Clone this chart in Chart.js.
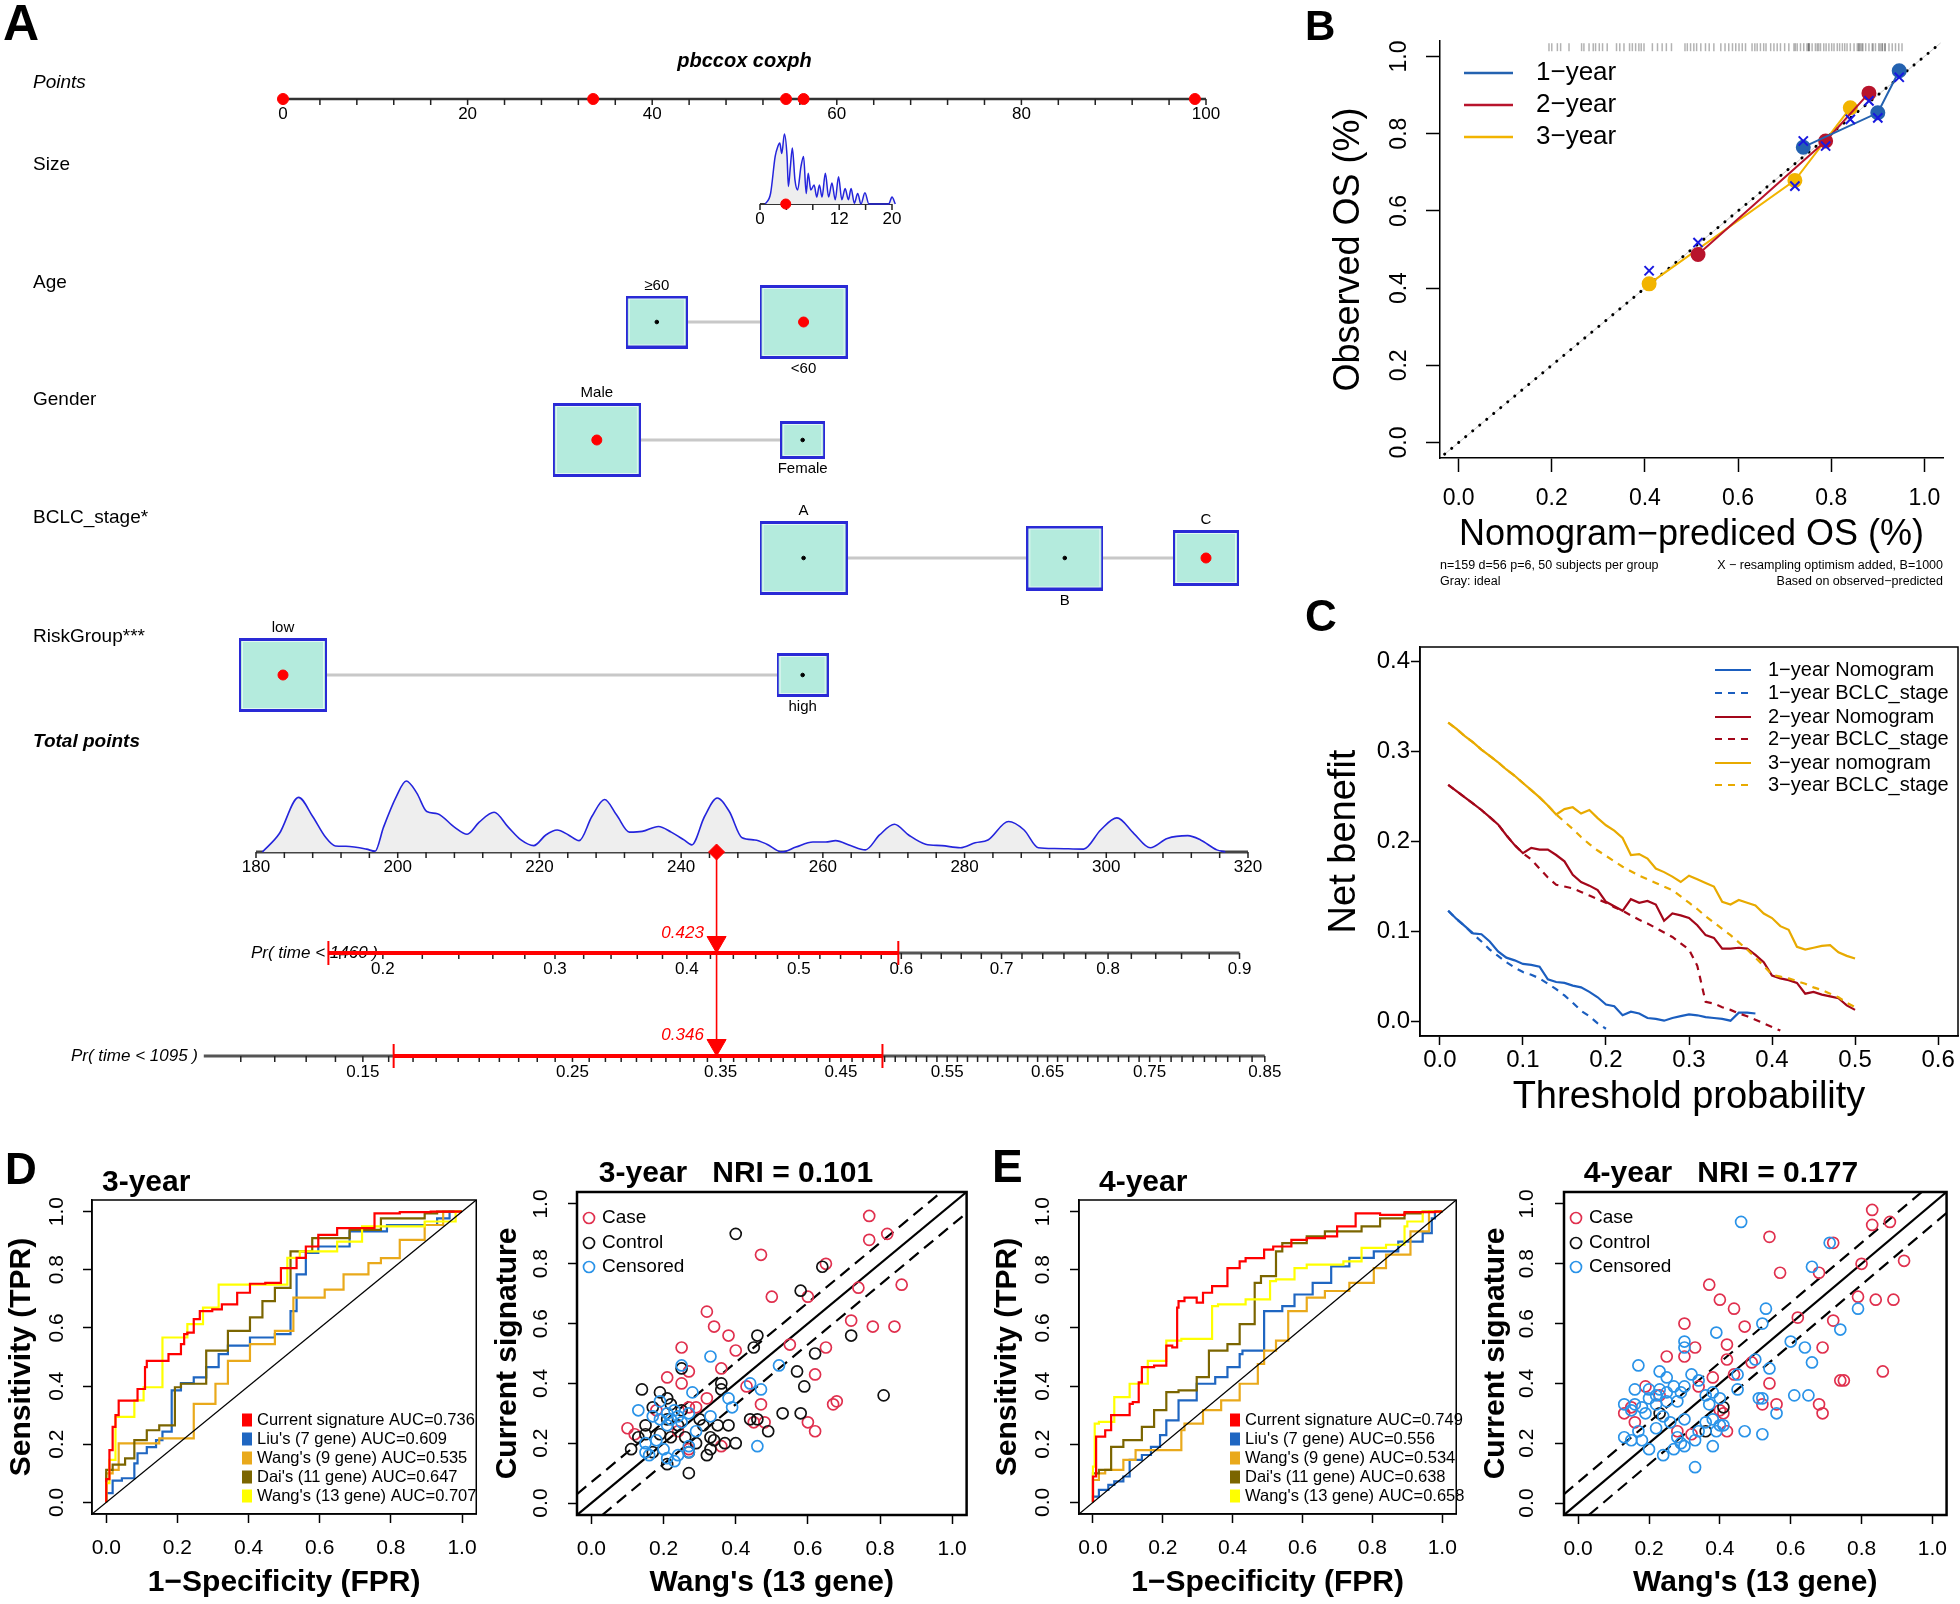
<!DOCTYPE html>
<html>
<head>
<meta charset="utf-8">
<title>Nomogram, calibration, DCA, ROC and NRI</title>
<script src="https://cdn.jsdelivr.net/npm/chart.js@4.4.1/dist/chart.umd.min.js"></script>
<style>
  html, body { margin: 0; padding: 0; background: #fff; }
  #page { position: relative; width: 1960px; height: 1604px; overflow: hidden; font-family: 'Liberation Sans', Arial, sans-serif; }
  #page canvas { position: absolute; }
  .tag { position: absolute; font-weight: bold; line-height: 1; color: #000; }
</style>
</head>
<body>
<div id="page">
  <canvas id="nomo" width="1300" height="1090" style="left:0;top:0"></canvas>
  <canvas id="calib" width="660" height="600" style="left:1300px;top:0"></canvas>
  <canvas id="dca" width="660" height="525" style="left:1300px;top:600px"></canvas>
  <canvas id="rocD" width="490" height="494" style="left:0;top:1110px"></canvas>
  <canvas id="nriD" width="490" height="494" style="left:490px;top:1110px"></canvas>
  <canvas id="rocE" width="490" height="494" style="left:980px;top:1110px"></canvas>
  <canvas id="nriE" width="490" height="494" style="left:1470px;top:1110px"></canvas>
  <div class="tag" style="left:3px;top:-2px;font-size:50px">A</div>
  <div class="tag" style="left:1305px;top:5px;font-size:42px">B</div>
  <div class="tag" style="left:1305px;top:594px;font-size:44px">C</div>
  <div class="tag" style="left:5px;top:1147px;font-size:44px">D</div>
  <div class="tag" style="left:992px;top:1143px;font-size:46px">E</div>
</div>
<script>
// ---------- A: nomogram ----------
const nomoTitle = 'pbccox coxph';
const rowNames = ['Points', 'Size', 'Age', 'Gender', 'BCLC_stage*', 'RiskGroup***', 'Total points'];
const pointsTicks = [0, 20, 40, 60, 80, 100];
const sizeTicks = [0, 12, 20];
const totalTicks = [180, 200, 220, 240, 260, 280, 300, 320];
const pr1460Ticks = [0.2, 0.3, 0.4, 0.5, 0.6, 0.7, 0.8, 0.9];
const pr1095Ticks = [0.15, 0.25, 0.35, 0.45, 0.55, 0.65, 0.75, 0.85];

const ageLevels = ['≥60', '<60'];
const agePoints = [40.5, 56.4];
const ageFreq = [0.33, 0.67];
const genderLevels = ['Male', 'Female'];
const genderPoints = [34.0, 56.3];
const genderFreq = [0.80, 0.20];
const bclcLevels = ['A', 'B', 'C'];
const bclcPoints = [56.4, 84.7, 100.0];
const bclcFreq = [0.43, 0.33, 0.24];
const riskLevels = ['low', 'high'];
const riskPoints = [0, 56.3];
const riskFreq = [0.75, 0.25];
const ageSel = 1, genderSel = 0, bclcSel = 2, riskSel = 0;

const selectedPoints = [0, 33.6, 54.5, 56.4, 98.8];
const sizeSelected = 3.9;
const totalSelected = 245;
const pr1460Selected = 0.423;
const pr1095Selected = 0.346;
const pr1460CI = [0.175, 0.597];
const pr1095CI = [0.162, 0.488];
const pr1460Range = [0.175, 0.9];
const pr1095Range = [0.10, 0.85];
// probability axes: total points = offset + slope * cloglog(p)
const prSlope = 51.8, pr1460Offset = 275.6, pr1095Offset = 289.2;

const sizeValues = [0.8, 1.6, 2.3, 2.7, 3.0, 3.3, 3.7, 4.1, 4.3, 4.6, 4.9, 5.3, 5.7, 6.2, 6.6, 7.0, 7.3, 7.7, 8.2, 8.6, 9.0, 9.4, 9.9, 10.4, 10.9, 11.4, 11.9, 12.4, 12.9, 13.4, 13.8, 14.3, 14.8, 15.3, 15.9, 16.5, 19.5, 20.0, 20.5];
const sizeDensity = [0, 0.15, 0.68, 0.82, 0.87, 0.72, 1.0, 0.68, 0.25, 0.53, 0.80, 0.34, 0.2, 0.53, 0.68, 0.15, 0.44, 0.2, 0.27, 0.1, 0.27, 0.1, 0.44, 0.1, 0.30, 0.06, 0.39, 0.06, 0.22, 0.06, 0.22, 0.01, 0.15, 0, 0.16, 0, 0, 0.1, 0];
const totalValues = [180.9, 183.3, 186.0, 188.0, 189.8, 191.2, 192.7, 195.6, 196.8, 198.0, 199.8, 201.2, 202.7, 204.1, 205.6, 208.0, 209.8, 211.5, 213.6, 215.6, 217.4, 219.2, 220.9, 222.5, 224.1, 225.6, 227.4, 229.2, 230.9, 232.7, 234.5, 236.8, 238.6, 240.4, 241.5, 243.3, 245.1, 246.8, 248.6, 250.4, 252.1, 254.2, 256.2, 258.6, 260.4, 261.8, 263.9, 266.0, 268.0, 270.1, 272.1, 274.5, 276.8, 279.4, 281.5, 283.3, 286.2, 288.4, 290.4, 292.7, 296.8, 299.2, 301.5, 303.9, 306.2, 308.6, 311.5, 313.3, 315.6, 316.8];
const totalDensity = [0, 0.26, 0.77, 0.50, 0.21, 0.085, 0.08, 0.04, 0.01, 0.35, 0.78, 1.0, 0.83, 0.57, 0.54, 0.35, 0.25, 0.42, 0.56, 0.35, 0.17, 0.09, 0.24, 0.31, 0.24, 0.16, 0.50, 0.74, 0.52, 0.28, 0.29, 0.36, 0.28, 0.17, 0.10, 0.50, 0.76, 0.57, 0.20, 0.17, 0.11, 0, 0.07, 0.14, 0.14, 0.16, 0.09, 0.03, 0.24, 0.39, 0.24, 0.11, 0.09, 0.06, 0.13, 0.17, 0.43, 0.31, 0.06, 0.05, 0.04, 0.31, 0.48, 0.26, 0.06, 0.19, 0.23, 0.17, 0.03, 0];

// ---------- B: calibration ----------
const calTicks = [0, 0.2, 0.4, 0.6, 0.8, 1.0];
const calLegend = ['1−year', '2−year', '3−year'];
const calPred1 = [0.740, 0.900, 0.946], calObs1 = [0.765, 0.854, 0.963], calCorr1 = [0.781, 0.841, 0.946];
const calPred2 = [0.514, 0.788, 0.881], calObs2 = [0.487, 0.781, 0.905], calCorr2 = [0.518, 0.768, 0.885];
const calPred3 = [0.409, 0.722, 0.841], calObs3 = [0.411, 0.679, 0.867], calCorr3 = [0.445, 0.664, 0.837];
const calRug = [0.194, 0.200, 0.212, 0.219, 0.237, 0.264, 0.269, 0.280, 0.289, 0.294, 0.302, 0.309, 0.319, 0.339, 0.346, 0.355, 0.367, 0.373, 0.380, 0.387, 0.392, 0.398, 0.416, 0.427, 0.437, 0.446, 0.457, 0.486, 0.491, 0.498, 0.505, 0.511, 0.520, 0.530, 0.538, 0.548, 0.563, 0.572, 0.580, 0.588, 0.595, 0.602, 0.609, 0.616, 0.630, 0.636, 0.641, 0.648, 0.655, 0.660, 0.670, 0.677, 0.684, 0.691, 0.700, 0.709, 0.720, 0.723, 0.727, 0.734, 0.741, 0.748, 0.751, 0.752, 0.753, 0.759, 0.766, 0.770, 0.773, 0.777, 0.784, 0.789, 0.795, 0.801, 0.806, 0.813, 0.818, 0.824, 0.829, 0.834, 0.841, 0.849, 0.856, 0.859, 0.860, 0.863, 0.866, 0.868, 0.874, 0.881, 0.888, 0.890, 0.895, 0.902, 0.905, 0.909, 0.910, 0.915, 0.916, 0.924, 0.931, 0.938, 0.945, 0.952];

// ---------- C: decision curves ----------
const dcaXTicks = [0, 0.1, 0.2, 0.3, 0.4, 0.5, 0.6];
const dcaYTicks = [0, 0.1, 0.2, 0.3, 0.4];
const dcaLegend = ['1−year Nomogram', '1−year BCLC_stage', '2−year Nomogram', '2−year BCLC_stage', '3−year nomogram', '3−year BCLC_stage'];
const dcaThresholds = [0.01, 0.02, 0.03, 0.04, 0.05, 0.06, 0.07, 0.08, 0.09, 0.10, 0.11, 0.12, 0.13, 0.14, 0.15, 0.16, 0.17, 0.18, 0.19, 0.20, 0.21, 0.22, 0.23, 0.24, 0.25, 0.26, 0.27, 0.28, 0.29, 0.30, 0.31, 0.32, 0.33, 0.34, 0.35, 0.36, 0.37, 0.38, 0.39, 0.40, 0.41, 0.42, 0.43, 0.44, 0.45, 0.46, 0.47, 0.48, 0.49, 0.50];
const nb1yNomogram = [0.123, 0.114, 0.106, 0.098, 0.097, 0.089, 0.078, 0.071, 0.068, 0.064, 0.063, 0.061, 0.047, 0.044, 0.043, 0.040, 0.038, 0.033, 0.027, 0.019, 0.017, 0.007, 0.011, 0.009, 0.004, 0.003, 0.001, 0.004, 0.006, 0.008, 0.007, 0.005, 0.004, 0.003, 0.001, 0.010, 0.010, 0.009];
const nb1yBclc = [0.123, 0.114, 0.106, 0.097, 0.089, 0.080, 0.073, 0.066, 0.060, 0.055, 0.052, 0.048, 0.042, 0.036, 0.029, 0.021, 0.012, 0.006, -0.002, -0.008];
const nb2yNomogram = [0.263, 0.256, 0.249, 0.242, 0.235, 0.227, 0.219, 0.207, 0.196, 0.187, 0.193, 0.191, 0.191, 0.185, 0.178, 0.163, 0.155, 0.151, 0.146, 0.133, 0.128, 0.123, 0.136, 0.132, 0.134, 0.130, 0.112, 0.120, 0.118, 0.115, 0.107, 0.096, 0.093, 0.081, 0.081, 0.082, 0.081, 0.074, 0.066, 0.051, 0.048, 0.046, 0.043, 0.031, 0.033, 0.030, 0.028, 0.026, 0.018, 0.013];
const nb2yBclc = [0.263, 0.256, 0.249, 0.242, 0.235, 0.227, 0.219, 0.207, 0.196, 0.187, 0.180, 0.170, 0.160, 0.152, 0.150, 0.148, 0.144, 0.140, 0.136, 0.132, 0.127, 0.123, 0.118, 0.113, 0.109, 0.104, 0.099, 0.094, 0.087, 0.080, 0.062, 0.022, 0.020, 0.016, 0.013, 0.009, 0.006, 0.002, -0.002, -0.006, -0.010];
const nb3yNomogram = [0.332, 0.325, 0.317, 0.310, 0.302, 0.295, 0.288, 0.280, 0.273, 0.265, 0.257, 0.249, 0.240, 0.230, 0.236, 0.238, 0.231, 0.235, 0.226, 0.218, 0.212, 0.204, 0.185, 0.186, 0.181, 0.170, 0.166, 0.161, 0.155, 0.162, 0.158, 0.154, 0.150, 0.133, 0.130, 0.135, 0.132, 0.129, 0.120, 0.115, 0.106, 0.102, 0.083, 0.080, 0.082, 0.084, 0.085, 0.077, 0.073, 0.070];
const nb3yBclc = [0.332, 0.325, 0.317, 0.310, 0.302, 0.295, 0.288, 0.280, 0.273, 0.265, 0.257, 0.249, 0.240, 0.230, 0.222, 0.214, 0.205, 0.197, 0.190, 0.184, 0.178, 0.172, 0.167, 0.162, 0.158, 0.154, 0.150, 0.146, 0.139, 0.132, 0.125, 0.117, 0.110, 0.103, 0.096, 0.088, 0.080, 0.071, 0.062, 0.052, 0.050, 0.048, 0.045, 0.042, 0.038, 0.035, 0.031, 0.027, 0.021, 0.016];

// ---------- D / E: ROC ----------
const unitTicks = [0, 0.2, 0.4, 0.6, 0.8, 1.0];
const rocNames = ['Current signature', "Liu's (7 gene)", "Wang's (9 gene)", "Dai's (11 gene)", "Wang's (13 gene)"];
const aucD = ['0.736', '0.609', '0.535', '0.647', '0.707'];
const aucE = ['0.749', '0.556', '0.534', '0.638', '0.658'];

const rocDCurrentFpr = [0, 0.009, 0.018, 0.026, 0.035, 0.053, 0.088, 0.109, 0.114, 0.118, 0.175, 0.184, 0.210, 0.219, 0.228, 0.246, 0.263, 0.298, 0.325, 0.368, 0.404, 0.447, 0.491, 0.535, 0.561, 0.596, 0.649, 0.754, 0.825, 0.912, 1.0];
const rocDCurrentTpr = [0, 0.08, 0.18, 0.26, 0.30, 0.35, 0.35, 0.39, 0.465, 0.487, 0.487, 0.51, 0.51, 0.544, 0.579, 0.584, 0.63, 0.658, 0.664, 0.681, 0.721, 0.752, 0.755, 0.806, 0.841, 0.880, 0.920, 0.943, 0.994, 0.998, 1.0];
const rocDLiuFpr = [0, 0.018, 0.044, 0.079, 0.088, 0.114, 0.140, 0.158, 0.184, 0.210, 0.246, 0.281, 0.316, 0.342, 0.404, 0.474, 0.518, 0.535, 0.561, 0.596, 0.684, 0.789, 0.930, 0.965, 1.0];
const rocDLiuTpr = [0, 0.032, 0.075, 0.083, 0.134, 0.169, 0.19, 0.214, 0.243, 0.385, 0.41, 0.43, 0.465, 0.51, 0.539, 0.567, 0.579, 0.658, 0.784, 0.858, 0.880, 0.932, 0.954, 0.977, 1.0];
const rocDWang9Fpr = [0, 0.018, 0.035, 0.109, 0.149, 0.246, 0.254, 0.307, 0.342, 0.404, 0.474, 0.526, 0.614, 0.667, 0.737, 0.772, 0.825, 0.895, 0.947, 1.0];
const rocDWang9Tpr = [0, 0.10, 0.112, 0.203, 0.203, 0.22, 0.339, 0.339, 0.408, 0.487, 0.544, 0.59, 0.704, 0.732, 0.784, 0.823, 0.84, 0.903, 0.954, 1.0];
const rocDDaiFpr = [0, 0.018, 0.053, 0.079, 0.114, 0.149, 0.193, 0.210, 0.281, 0.342, 0.404, 0.439, 0.474, 0.518, 0.579, 0.684, 0.772, 0.895, 0.930, 1.0];
const rocDDaiTpr = [0, 0.112, 0.13, 0.151, 0.214, 0.248, 0.265, 0.396, 0.408, 0.522, 0.59, 0.636, 0.692, 0.738, 0.863, 0.909, 0.937, 0.977, 0.994, 1.0];
const rocDWang13Fpr = [0, 0.009, 0.026, 0.035, 0.079, 0.105, 0.158, 0.228, 0.272, 0.316, 0.404, 0.509, 0.544, 0.579, 0.649, 0.719, 0.895, 0.982, 1.0];
const rocDWang13Tpr = [0, 0.066, 0.146, 0.294, 0.294, 0.351, 0.396, 0.567, 0.613, 0.670, 0.749, 0.749, 0.841, 0.863, 0.863, 0.897, 0.949, 0.966, 1.0];

const rocECurrentFpr = [0, 0.009, 0.035, 0.052, 0.061, 0.105, 0.114, 0.131, 0.140, 0.175, 0.210, 0.227, 0.241, 0.245, 0.262, 0.297, 0.315, 0.341, 0.385, 0.393, 0.420, 0.437, 0.490, 0.516, 0.568, 0.612, 0.664, 0.699, 0.752, 0.822, 0.892, 0.98, 1.0];
const rocECurrentTpr = [0, 0.089, 0.226, 0.248, 0.30, 0.30, 0.339, 0.345, 0.413, 0.465, 0.47, 0.539, 0.533, 0.67, 0.692, 0.704, 0.687, 0.721, 0.744, 0.806, 0.806, 0.829, 0.84, 0.869, 0.88, 0.903, 0.909, 0.915, 0.949, 0.994, 0.989, 0.998, 1.0];
const rocELiuFpr = [0, 0.017, 0.044, 0.061, 0.087, 0.105, 0.14, 0.166, 0.192, 0.21, 0.245, 0.297, 0.35, 0.385, 0.42, 0.428, 0.49, 0.542, 0.577, 0.629, 0.682, 0.734, 0.804, 0.874, 0.944, 0.97, 0.979, 1.0];
const rocELiuTpr = [0, 0.02, 0.043, 0.06, 0.072, 0.089, 0.146, 0.163, 0.191, 0.231, 0.282, 0.351, 0.408, 0.431, 0.465, 0.51, 0.522, 0.658, 0.675, 0.715, 0.755, 0.812, 0.841, 0.863, 0.897, 0.926, 0.977, 1.0];
const rocEWang9Fpr = [0, 0.017, 0.035, 0.087, 0.122, 0.157, 0.253, 0.262, 0.315, 0.367, 0.42, 0.472, 0.49, 0.524, 0.559, 0.612, 0.664, 0.734, 0.804, 0.839, 0.909, 0.962, 1.0];
const rocEWang9Tpr = [0, 0.077, 0.1, 0.112, 0.146, 0.18, 0.18, 0.248, 0.271, 0.317, 0.351, 0.408, 0.476, 0.522, 0.556, 0.658, 0.704, 0.727, 0.755, 0.806, 0.852, 0.932, 1.0];
const rocEDaiFpr = [0, 0.017, 0.052, 0.087, 0.14, 0.175, 0.21, 0.245, 0.297, 0.332, 0.385, 0.42, 0.463, 0.481, 0.524, 0.542, 0.612, 0.664, 0.769, 0.822, 0.892, 0.944, 1.0];
const rocEDaiTpr = [0, 0.1, 0.112, 0.191, 0.214, 0.26, 0.317, 0.379, 0.385, 0.431, 0.522, 0.544, 0.613, 0.755, 0.778, 0.863, 0.892, 0.915, 0.932, 0.949, 0.977, 0.994, 1.0];
const rocEWang13Fpr = [0, 0.005, 0.017, 0.061, 0.105, 0.157, 0.21, 0.253, 0.341, 0.358, 0.437, 0.507, 0.524, 0.577, 0.612, 0.717, 0.769, 0.839, 0.892, 0.9, 0.944, 1.0];
const rocEWang13Tpr = [0, 0.123, 0.271, 0.277, 0.362, 0.408, 0.487, 0.556, 0.562, 0.675, 0.681, 0.698, 0.761, 0.767, 0.806, 0.818, 0.829, 0.875, 0.886, 0.949, 0.966, 1.0];

// ---------- D / E: NRI scatter ----------
const nriLegend = ['Case', 'Control', 'Censored'];
const nriDCaseX = [0.77, 0.82, 0.77, 0.47, 0.65, 0.86, 0.74, 0.50, 0.60, 0.32, 0.34, 0.38, 0.72, 0.78, 0.84, 0.40, 0.25, 0.55, 0.65, 0.36, 0.27, 0.21, 0.25, 0.62, 0.43, 0.47, 0.67, 0.68, 0.48, 0.45, 0.60, 0.62, 0.10, 0.12, 0.27, 0.29, 0.32, 0.36, 0.27, 0.24, 0.18];
const nriDCaseY = [0.96, 0.90, 0.88, 0.83, 0.80, 0.73, 0.72, 0.69, 0.69, 0.64, 0.59, 0.56, 0.61, 0.59, 0.59, 0.51, 0.52, 0.53, 0.52, 0.45, 0.44, 0.42, 0.40, 0.43, 0.39, 0.33, 0.33, 0.34, 0.27, 0.27, 0.27, 0.24, 0.25, 0.23, 0.32, 0.32, 0.35, 0.19, 0.18, 0.24, 0.31];
const nriDControlX = [0.40, 0.64, 0.58, 0.46, 0.72, 0.45, 0.62, 0.57, 0.59, 0.81, 0.14, 0.25, 0.19, 0.21, 0.36, 0.36, 0.53, 0.58, 0.44, 0.46, 0.49, 0.40, 0.11, 0.15, 0.17, 0.21, 0.27, 0.32, 0.33, 0.34, 0.35, 0.31, 0.24, 0.26, 0.22, 0.19, 0.15, 0.29, 0.22, 0.25, 0.30, 0.37, 0.33, 0.17, 0.13, 0.27, 0.38, 0.21];
const nriDControlY = [0.90, 0.79, 0.71, 0.56, 0.56, 0.52, 0.50, 0.44, 0.39, 0.36, 0.38, 0.45, 0.37, 0.35, 0.40, 0.38, 0.30, 0.30, 0.28, 0.28, 0.24, 0.20, 0.18, 0.26, 0.32, 0.13, 0.10, 0.16, 0.22, 0.21, 0.26, 0.26, 0.26, 0.22, 0.22, 0.23, 0.23, 0.20, 0.33, 0.31, 0.28, 0.20, 0.18, 0.17, 0.22, 0.17, 0.26, 0.28];
const nriDCensX = [0.33, 0.25, 0.52, 0.28, 0.44, 0.47, 0.38, 0.39, 0.19, 0.13, 0.17, 0.19, 0.21, 0.23, 0.21, 0.24, 0.22, 0.25, 0.27, 0.33, 0.29, 0.18, 0.15, 0.16, 0.20, 0.21, 0.24, 0.23, 0.27, 0.46, 0.27, 0.15];
const nriDCensY = [0.49, 0.46, 0.46, 0.37, 0.40, 0.38, 0.35, 0.32, 0.34, 0.31, 0.29, 0.28, 0.30, 0.31, 0.26, 0.29, 0.28, 0.27, 0.30, 0.29, 0.24, 0.21, 0.17, 0.16, 0.18, 0.15, 0.16, 0.14, 0.17, 0.19, 0.19, 0.20];

const nriECaseX = [0.83, 0.83, 0.88, 0.54, 0.72, 0.92, 0.80, 0.57, 0.68, 0.37, 0.40, 0.44, 0.47, 0.62, 0.72, 0.79, 0.84, 0.89, 0.30, 0.33, 0.25, 0.30, 0.42, 0.42, 0.69, 0.49, 0.86, 0.74, 0.75, 0.54, 0.44, 0.38, 0.34, 0.19, 0.23, 0.56, 0.52, 0.68, 0.69, 0.13, 0.15, 0.40, 0.41, 0.42, 0.28, 0.32, 0.16];
const nriECaseY = [0.98, 0.93, 0.94, 0.89, 0.87, 0.81, 0.80, 0.77, 0.77, 0.73, 0.68, 0.65, 0.59, 0.62, 0.61, 0.69, 0.68, 0.68, 0.60, 0.52, 0.49, 0.49, 0.53, 0.48, 0.52, 0.47, 0.44, 0.41, 0.41, 0.40, 0.43, 0.42, 0.39, 0.39, 0.36, 0.33, 0.33, 0.33, 0.30, 0.30, 0.32, 0.31, 0.30, 0.24, 0.24, 0.23, 0.27];
const nriEControlX = [0.23, 0.41, 0.36];
const nriEControlY = [0.30, 0.32, 0.24];
const nriECensX = [0.46, 0.71, 0.66, 0.79, 0.53, 0.52, 0.74, 0.39, 0.60, 0.64, 0.66, 0.30, 0.30, 0.50, 0.54, 0.17, 0.23, 0.25, 0.32, 0.34, 0.45, 0.45, 0.16, 0.20, 0.22, 0.23, 0.25, 0.27, 0.29, 0.30, 0.28, 0.25, 0.22, 0.20, 0.18, 0.16, 0.15, 0.13, 0.36, 0.38, 0.40, 0.37, 0.51, 0.52, 0.61, 0.65, 0.56, 0.47, 0.52, 0.19, 0.17, 0.13, 0.15, 0.18, 0.20, 0.24, 0.27, 0.29, 0.30, 0.33, 0.34, 0.36, 0.38, 0.38, 0.40, 0.41, 0.39, 0.33, 0.24, 0.26, 0.30, 0.22, 0.28];
const nriECensY = [0.94, 0.87, 0.79, 0.65, 0.65, 0.60, 0.58, 0.57, 0.54, 0.52, 0.47, 0.54, 0.52, 0.48, 0.45, 0.46, 0.44, 0.42, 0.43, 0.41, 0.43, 0.38, 0.38, 0.38, 0.36, 0.38, 0.37, 0.39, 0.37, 0.39, 0.34, 0.34, 0.33, 0.35, 0.32, 0.33, 0.31, 0.33, 0.36, 0.37, 0.35, 0.33, 0.35, 0.35, 0.36, 0.36, 0.30, 0.24, 0.23, 0.30, 0.24, 0.22, 0.21, 0.21, 0.18, 0.16, 0.18, 0.20, 0.19, 0.21, 0.24, 0.27, 0.28, 0.19, 0.26, 0.26, 0.24, 0.12, 0.29, 0.27, 0.28, 0.25, 0.22];
const nriBand = 0.07;

// ---------- helpers ----------
const FONT = "'Liberation Sans', Arial, Helvetica, sans-serif";
Chart.defaults.font.family = FONT;
Chart.defaults.color = '#000';

function fontStr(size, bold, italic) {
    return (italic ? 'italic ' : '') + (bold ? 'bold ' : '') + size + 'px ' + FONT;
}
function pts(xs, ys) {
    return ys.map(function (y, i) { return { x: xs[i], y: y }; });
}
function fixTicks(vals) {
    return function (scale) { scale.ticks = vals.map(function (v) { return { value: v }; }); };
}
function steps(a, b, step) {
    const out = [];
    for (let v = a; v <= b + 1e-9; v += step) out.push(+v.toFixed(4));
    return out;
}
function txt(ctx, s, x, y, font, align, color) {
    ctx.font = font;
    ctx.fillStyle = color || '#000';
    ctx.textAlign = align || 'center';
    ctx.textBaseline = 'middle';
    ctx.fillText(s, x, y);
}
function prToTotal(p, offset) {
    return offset + prSlope * Math.log(-Math.log(1 - p));
}
function spanX(v0, p0, v1, p1, size) {
    const k = (p1 - p0) / (v1 - v0);
    return { min: v0 - p0 / k, max: v0 + (size - p0) / k };
}
function spanY(v0, p0, v1, p1, size) {
    const k = (p0 - p1) / (v1 - v0);
    const max = v0 + p0 / k;
    return { min: max - size / k, max: max };
}

// R-like axis: ticks outward, labels fixed, axis box size fixed
function rScale(o) {
    const fmt = o.fmt || function (v) { return v.toFixed(1); };
    return {
        type: 'linear',
        min: o.min,
        max: o.max,
        afterBuildTicks: fixTicks(o.ticks),
        afterFit: o.horizontal ? function (s) { s.height = o.size; } : function (s) { s.width = o.size; },
        ticks: {
            autoSkip: false, maxRotation: 0, minRotation: 0, padding: o.pad,
            font: { size: o.font },
            callback: o.hideLabels ? function () { return ''; } : function (v) { return fmt(v); }
        },
        grid: { display: true, drawOnChartArea: false, drawTicks: true, tickLength: o.tick, tickColor: '#000', tickWidth: 1.5 },
        border: { display: true, color: '#000', width: o.border || 1.5 },
        title: { display: true, text: o.title, color: '#000', padding: o.titlePad,
                 font: { size: o.titleSize, weight: o.bold ? 'bold' : 'normal' } }
    };
}
function rOptions(padding, x, y) {
    return {
        responsive: false, animation: false, devicePixelRatio: 1, events: [],
        layout: { padding: padding, autoPadding: false },
        plugins: { legend: { display: false }, tooltip: { enabled: false } },
        scales: { x: x, y: y }
    };
}
// box, rotated y labels, free texts and legends
function deco(cfg) {
    return {
        id: 'deco',
        afterDraw: function (chart) {
            const ctx = chart.ctx, a = chart.chartArea;
            ctx.save();
            if (cfg.box) {
                ctx.strokeStyle = '#000';
                ctx.lineWidth = cfg.box;
                ctx.strokeRect(a.left, a.top, a.right - a.left, a.bottom - a.top);
            }
            if (cfg.yLabels) {
                const ys = chart.scales.y;
                cfg.yLabels.values.forEach(function (v) {
                    ctx.save();
                    ctx.translate(a.left - cfg.yLabels.dist, ys.getPixelForValue(v));
                    ctx.rotate(-Math.PI / 2);
                    txt(ctx, v.toFixed(1), 0, 0, fontStr(cfg.yLabels.size));
                    ctx.restore();
                });
            }
            (cfg.texts || []).forEach(function (t) {
                txt(ctx, t.s, t.x, t.y, fontStr(t.size, t.bold, t.italic), t.align, t.color);
            });
            if (cfg.legend) cfg.legend(ctx, chart);
            ctx.restore();
        }
    };
}

// ---------- A: build ----------
const A_W = 1300, A_H = 1090;
const ROW = { title: 61, points: 99, size: 204, age: 322, gender: 440, bclc: 558, risk: 675, total: 852, pr1460: 953, pr1095: 1056 };
const rowNameY = [83, 165, 283, 400, 518, 637, 742];
const BOX_W = 86, BOX_H = 72;

const nomoVars = [
    { levels: ageLevels, pts: agePoints, freq: ageFreq, sel: ageSel, row: ROW.age, side: ['above', 'below'] },
    { levels: genderLevels, pts: genderPoints, freq: genderFreq, sel: genderSel, row: ROW.gender, side: ['above', 'below'] },
    { levels: bclcLevels, pts: bclcPoints, freq: bclcFreq, sel: bclcSel, row: ROW.bclc, side: ['above', 'below', 'above'] },
    { levels: riskLevels, pts: riskPoints, freq: riskFreq, sel: riskSel, row: ROW.risk, side: ['above', 'below'] }
];

function makeBox(w, h) {
    const c = document.createElement('canvas');
    c.width = Math.round(w) + 2;
    c.height = Math.round(h) + 2;
    const g = c.getContext('2d');
    g.fillStyle = '#b4ebdd';
    g.fillRect(1, 1, c.width - 2, c.height - 2);
    g.strokeStyle = '#2a2ad6';
    g.lineWidth = 2;
    g.strokeRect(1, 1, c.width - 2, c.height - 2);
    g.fillStyle = '#2a2ad6';
    g.fillRect(0, 0, c.width, 3);
    g.fillRect(0, c.height - 3, c.width, 3);
    g.strokeStyle = '#e2f8f2';
    g.lineWidth = 1;
    g.strokeRect(3.5, 3.5, c.width - 7, c.height - 7);
    return c;
}

const boxData = [], boxStyles = [], blackDots = [], redDots = [], connectors = [];
nomoVars.forEach(function (v) {
    const fmax = Math.max.apply(null, v.freq);
    v.levels.forEach(function (lv, i) {
        const s = Math.sqrt(v.freq[i] / fmax);
        boxData.push({ x: v.pts[i], y: v.row });
        boxStyles.push(makeBox(BOX_W * s, BOX_H * s));
        (i === v.sel ? redDots : blackDots).push({ x: v.pts[i], y: v.row });
    });
    connectors.push({
        data: [{ x: Math.min.apply(null, v.pts), y: v.row }, { x: Math.max.apply(null, v.pts), y: v.row }],
        showLine: true, pointRadius: 0, borderColor: '#c8c8c8', borderWidth: 3, order: 6
    });
});

const nomoDeco = {
    id: 'nomoDeco',
    beforeDatasetsDraw: function (chart) {
        const ctx = chart.ctx;
        const px = function (v) { return chart.scales.x.getPixelForValue(v); };
        const pt = function (v) { return chart.scales.xt.getPixelForValue(v); };
        const ps = function (v) { return chart.scales.xs.getPixelForValue(v); };
        const p60 = function (p) { return pt(prToTotal(p, pr1460Offset)); };
        const p95 = function (p) { return pt(prToTotal(p, pr1095Offset)); };
        function axis(x0, x1, y, ticks, width, color) {
            ctx.strokeStyle = color;
            ctx.lineWidth = width;
            ctx.beginPath(); ctx.moveTo(x0, y); ctx.lineTo(x1, y); ctx.stroke();
            ctx.lineWidth = 1.5;
            ctx.strokeStyle = '#222';
            ctx.beginPath();
            ticks.forEach(function (p) { ctx.moveTo(p, y); ctx.lineTo(p, y + 6); });
            ctx.stroke();
        }
        ctx.save();
        txt(ctx, nomoTitle, px(50), ROW.title, fontStr(20, true, true));
        rowNames.forEach(function (s, i) {
            const last = i === rowNames.length - 1;
            txt(ctx, s, 33, rowNameY[i], fontStr(19, last, i === 0 || last), 'left');
        });
        axis(px(0), px(100), ROW.points, steps(0, 100, 4).map(px), 2.5, '#333');
        pointsTicks.forEach(function (v) { txt(ctx, String(v), px(v), ROW.points + 15, fontStr(17)); });
        axis(ps(0), ps(20), ROW.size, steps(0, 20, 4).map(ps), 2, '#333');
        sizeTicks.forEach(function (v) { txt(ctx, String(v), ps(v), ROW.size + 15, fontStr(17)); });
        axis(pt(180), pt(320), ROW.total, steps(180, 320, 4).map(pt), 3, '#444');
        totalTicks.forEach(function (v) { txt(ctx, String(v), pt(v), ROW.total + 15, fontStr(17)); });
        axis(p60(pr1460Range[0]), p60(pr1460Range[1]), ROW.pr1460, steps(0.18, 0.9, 0.02).map(p60), 3, '#555');
        pr1460Ticks.forEach(function (v) { txt(ctx, String(v), p60(v), ROW.pr1460 + 16, fontStr(17)); });
        txt(ctx, 'Pr( time < 1460 )', 378, ROW.pr1460, fontStr(17, false, true), 'right');
        axis(p95(pr1095Range[0]), p95(pr1095Range[1]), ROW.pr1095, steps(0.11, 0.85, 0.01).map(p95), 3, '#555');
        pr1095Ticks.forEach(function (v) { txt(ctx, String(v), p95(v), ROW.pr1095 + 16, fontStr(17)); });
        txt(ctx, 'Pr( time < 1095 )', 198, ROW.pr1095, fontStr(17, false, true), 'right');
        nomoVars.forEach(function (v) {
            const fmax = Math.max.apply(null, v.freq);
            v.levels.forEach(function (lv, i) {
                const h = BOX_H * Math.sqrt(v.freq[i] / fmax);
                const y = v.side[i] === 'above' ? v.row - h / 2 - 11 : v.row + h / 2 + 11;
                txt(ctx, lv, px(v.pts[i]), y, fontStr(15));
            });
        });
        const xs = pt(totalSelected);
        txt(ctx, String(totalSelected), xs, ROW.total - 19, fontStr(18, false, true), 'center', '#ff0000');
        txt(ctx, pr1460Selected.toFixed(3), xs - 34, ROW.pr1460 - 20, fontStr(17, false, true), 'center', '#ff0000');
        txt(ctx, pr1095Selected.toFixed(3), xs - 34, ROW.pr1095 - 21, fontStr(17, false, true), 'center', '#ff0000');
        ctx.restore();
    }
};

function ciSet(ci, offset, row) {
    return {
        data: ci.map(function (p) { return { x: prToTotal(p, offset), y: row }; }),
        xAxisID: 'xt', showLine: true, borderColor: '#ff0000', borderWidth: 4,
        pointStyle: 'line', rotation: 90, pointRadius: 12, pointBorderColor: '#ff0000', pointBorderWidth: 2, order: 1
    };
}

new Chart(document.getElementById('nomo'), {
    type: 'scatter',
    data: {
        datasets: [
            { data: redDots, pointRadius: 5, pointBackgroundColor: '#ff0000', pointBorderColor: '#ff0000', order: 0 },
            { data: blackDots, pointRadius: 1.8, pointBackgroundColor: '#000', pointBorderColor: '#000', order: 1 },
            { data: boxData, pointRadius: 10, pointStyle: function (c) { return boxStyles[c.dataIndex]; }, order: 2 },
            { data: selectedPoints.map(function (v) { return { x: v, y: ROW.points }; }),
              pointRadius: 5.5, pointBackgroundColor: '#ff0000', pointBorderColor: '#ff0000', order: 0 },
            { type: 'line', data: pts(sizeValues, sizeDensity), xAxisID: 'xs', yAxisID: 'ySize',
              pointRadius: 0, borderColor: '#2424dc', borderWidth: 1.5, fill: 'origin', backgroundColor: '#eeeeee',
              cubicInterpolationMode: 'monotone', order: 7 },
            { data: [{ x: sizeSelected, y: 0 }], xAxisID: 'xs', yAxisID: 'ySize',
              pointRadius: 5, pointBackgroundColor: '#ff0000', pointBorderColor: '#ff0000', order: 0 },
            { type: 'line', data: pts(totalValues, totalDensity), xAxisID: 'xt', yAxisID: 'yTot',
              pointRadius: 0, borderColor: '#2424dc', borderWidth: 1.6, fill: 'origin', backgroundColor: '#eeeeee',
              cubicInterpolationMode: 'monotone', order: 7 },
            { data: [{ x: totalSelected, y: ROW.total }, { x: totalSelected, y: ROW.pr1095 }], xAxisID: 'xt',
              showLine: true, pointRadius: 0, borderColor: '#ff0000', borderWidth: 1.6, order: 1 },
            ciSet(pr1460CI, pr1460Offset, ROW.pr1460),
            ciSet(pr1095CI, pr1095Offset, ROW.pr1095),
            { data: [{ x: totalSelected, y: ROW.total }], xAxisID: 'xt', pointStyle: 'rectRot', pointRadius: 8,
              pointBackgroundColor: '#ff0000', pointBorderColor: '#ff0000', order: 0 },
            { data: [{ x: totalSelected, y: ROW.pr1460 - 11 }, { x: totalSelected, y: ROW.pr1095 - 11 }], xAxisID: 'xt',
              pointStyle: 'triangle', rotation: 180, pointRadius: 11,
              pointBackgroundColor: '#ff0000', pointBorderColor: '#ff0000', order: 0 }
        ].concat(connectors)
    },
    options: {
        responsive: false, animation: false, devicePixelRatio: 1, events: [],
        layout: { padding: 0, autoPadding: false },
        plugins: { legend: { display: false }, tooltip: { enabled: false } },
        scales: {
            x: Object.assign({ type: 'linear', display: false, position: 'bottom' }, spanX(0, 283, 100, 1206, A_W)),
            xt: Object.assign({ type: 'linear', display: false, position: 'bottom' }, spanX(180, 256, 320, 1248, A_W)),
            xs: Object.assign({ type: 'linear', display: false, position: 'bottom' }, spanX(0, 760, 20, 892, A_W)),
            y: { type: 'linear', display: false, position: 'left', reverse: true, min: 0, max: A_H },
            ySize: Object.assign({ type: 'linear', display: false, position: 'left' }, spanY(0, ROW.size, 1, ROW.size - 70, A_H)),
            yTot: Object.assign({ type: 'linear', display: false, position: 'left' }, spanY(0, ROW.total, 1, ROW.total - 71, A_H))
        }
    },
    plugins: [nomoDeco]
});

// ---------- B: build ----------
const calColors = ['#2462b0', '#b8142c', '#f2b400'];
function calYear(xs, obs, color, order) {
    return { data: pts(xs, obs), showLine: true, borderColor: color, borderWidth: 2, pointRadius: 6.5,
             pointBackgroundColor: color, pointBorderColor: color, order: order };
}
new Chart(document.getElementById('calib'), {
    type: 'scatter',
    data: {
        datasets: [
            { data: pts(calPred1, calCorr1).concat(pts(calPred2, calCorr2), pts(calPred3, calCorr3)),
              pointStyle: 'crossRot', pointRadius: 6.5, pointBorderColor: '#1818e0', pointBorderWidth: 2, order: 0 },
            calYear(calPred1, calObs1, calColors[0], 1),
            calYear(calPred2, calObs2, calColors[1], 2),
            calYear(calPred3, calObs3, calColors[2], 3),
            { data: [{ x: -0.03, y: -0.03 }, { x: 1.035, y: 1.035 }], showLine: true, pointRadius: 0,
              borderColor: '#cccccc', borderWidth: 1, order: 6 },
            { data: [{ x: -0.03, y: -0.03 }, { x: 1.035, y: 1.035 }], showLine: true, pointRadius: 0,
              borderColor: '#000', borderWidth: 3, borderDash: [0.1, 9], borderCapStyle: 'round', order: 5 },
            { data: calRug.map(function (v) { return { x: v, y: 1.024 }; }), pointStyle: 'line', rotation: 90,
              pointRadius: 4, pointBorderColor: 'rgba(0,0,0,0.3)', pointBorderWidth: 1.5, order: 7 }
        ]
    },
    options: rOptions({ top: 41, right: 17, left: 0, bottom: 0 },
        rScale({ horizontal: true, min: -0.04, max: 1.04, ticks: calTicks, size: 142, font: 23, tick: 14, pad: 13,
                 title: 'Nomogram−prediced OS (%)', titleSize: 36, titlePad: { top: 0, bottom: 43 } }),
        rScale({ min: -0.04, max: 1.04, ticks: calTicks, size: 140, font: 23, tick: 14, pad: 0, hideLabels: true,
                 title: 'Observed OS (%)', titleSize: 36, titlePad: { top: 27, bottom: 0 } })),
    plugins: [deco({
        yLabels: { values: calTicks, dist: 40, size: 23 },
        texts: [
            { s: 'n=159 d=56 p=6, 50 subjects per group', x: 140, y: 566, size: 12.5, align: 'left' },
            { s: 'Gray: ideal', x: 140, y: 582, size: 12.5, align: 'left' },
            { s: 'X − resampling optimism added, B=1000', x: 643, y: 566, size: 12.5, align: 'right' },
            { s: 'Based on observed−predicted', x: 643, y: 582, size: 12.5, align: 'right' }
        ],
        legend: function (ctx) {
            [73, 105, 137].forEach(function (y, i) {
                ctx.strokeStyle = calColors[i];
                ctx.lineWidth = 2.5;
                ctx.beginPath(); ctx.moveTo(164, y); ctx.lineTo(213, y); ctx.stroke();
                txt(ctx, calLegend[i], 236, y, fontStr(26), 'left');
            });
        }
    })]
});

// ---------- C: build ----------
const dcaColors = ['#1b5ebf', '#1b5ebf', '#a3071a', '#a3071a', '#e8aa00', '#e8aa00'];
const dcaSeries = [nb1yNomogram, nb1yBclc, nb2yNomogram, nb2yBclc, nb3yNomogram, nb3yBclc];
new Chart(document.getElementById('dca'), {
    type: 'scatter',
    data: {
        datasets: dcaSeries.map(function (s, i) {
            return { data: pts(dcaThresholds, s), showLine: true, pointRadius: 0, borderColor: dcaColors[i],
                     borderWidth: 2.2, borderDash: i % 2 ? [7, 6] : [], order: 5 - i };
        })
    },
    options: rOptions({ top: 47, right: 2, left: 0, bottom: 0 },
        rScale({ horizontal: true, min: -0.024, max: 0.624, ticks: dcaXTicks, size: 89, font: 24, tick: 9, pad: 1,
                 title: 'Threshold probability', titleSize: 38, titlePad: { top: 0, bottom: 5 } }),
        rScale({ min: -0.016, max: 0.416, ticks: dcaYTicks, size: 120, font: 24, tick: 9, pad: 1,
                 title: 'Net benefit', titleSize: 38, titlePad: { top: 22, bottom: 0 } })),
    plugins: [deco({
        box: 1.5,
        legend: function (ctx) {
            [70, 93, 117, 139, 163, 185].forEach(function (y, i) {
                ctx.strokeStyle = dcaColors[i];
                ctx.lineWidth = 2.2;
                ctx.setLineDash(i % 2 ? [7, 6] : []);
                ctx.beginPath(); ctx.moveTo(415, y); ctx.lineTo(451, y); ctx.stroke();
                ctx.setLineDash([]);
                txt(ctx, dcaLegend[i], 468, y, fontStr(20), 'left');
            });
        }
    })]
});

// ---------- D / E: ROC ----------
const rocColors = ['#ff0000', '#1f66c1', '#e9a91b', '#7b6500', '#ffff00'];
function rocChart(id, curves, aucs, title, L) {
    const ds = curves.map(function (c, i) {
        return { data: pts(c[0], c[1]), showLine: true, stepped: 'after', pointRadius: 0,
                 borderColor: rocColors[i], borderWidth: 2.2, order: [1, 5, 4, 3, 2][i] };
    });
    ds.push({ data: [{ x: -0.04, y: -0.04 }, { x: 1.04, y: 1.04 }], showLine: true, pointRadius: 0,
              borderColor: '#000', borderWidth: 1.3, order: 0 });
    new Chart(document.getElementById(id), {
        type: 'scatter',
        data: { datasets: ds },
        options: rOptions({ top: 90, right: L.right, left: 0, bottom: 0 },
            rScale({ horizontal: true, min: -0.04, max: 1.04, ticks: unitTicks, size: 90, font: 21, tick: 9, pad: 13,
                     title: '1−Specificity (FPR)', titleSize: 30, bold: true, titlePad: { top: 0, bottom: 3 } }),
            rScale({ min: -0.04, max: 1.04, ticks: unitTicks, size: L.left, font: 21, tick: 9, pad: 0, hideLabels: true,
                     title: 'Sensitivity (TPR)', titleSize: 30, bold: true, titlePad: { top: L.yTitle, bottom: 0 } })),
        plugins: [deco({
            box: 1.5,
            yLabels: { values: unitTicks, dist: L.yDist, size: 21 },
            texts: [{ s: title, x: L.titleX, y: 73, size: 30, bold: true, align: 'left' }],
            legend: function (ctx) {
                [310, 329, 348, 367, 386].forEach(function (y, i) {
                    ctx.fillStyle = rocColors[i];
                    ctx.fillRect(L.legX, y - 6.5, 10, 13);
                    txt(ctx, rocNames[i] + ' AUC=' + aucs[i], L.legX + 15, y, fontStr(16.5), 'left');
                });
            }
        })]
    });
}
rocChart('rocD', [[rocDCurrentFpr, rocDCurrentTpr], [rocDLiuFpr, rocDLiuTpr], [rocDWang9Fpr, rocDWang9Tpr],
                  [rocDDaiFpr, rocDDaiTpr], [rocDWang13Fpr, rocDWang13Tpr]], aucD, '3-year',
         { left: 92, right: 10, yTitle: 4, yDist: 35, titleX: 102, legX: 242 });
rocChart('rocE', [[rocECurrentFpr, rocECurrentTpr], [rocELiuFpr, rocELiuTpr], [rocEWang9Fpr, rocEWang9Tpr],
                  [rocEDaiFpr, rocEDaiTpr], [rocEWang13Fpr, rocEWang13Tpr]], aucE, '4-year',
         { left: 99, right: 4, yTitle: 10, yDist: 36, titleX: 119, legX: 250 });

// ---------- D / E: NRI ----------
const nriColors = ['#e0304e', '#111111', '#2a93e8'];
function nriChart(id, groups, title, L) {
    const ds = groups.map(function (g, i) {
        return { data: pts(g[0], g[1]), pointRadius: 5.5, pointBorderWidth: 1.7, pointBorderColor: nriColors[i],
                 pointBackgroundColor: 'rgba(0,0,0,0)', order: 3 - i };
    });
    const line = function (pts2, dash) {
        return { data: pts2, showLine: true, pointRadius: 0, borderColor: '#000', borderWidth: 2.2, borderDash: dash, order: 10 };
    };
    ds.push(line([{ x: -0.04, y: -0.04 }, { x: 1.04, y: 1.04 }], []));
    ds.push(line([{ x: -0.04, y: -0.04 + nriBand }, { x: 1.04 - nriBand, y: 1.04 }], [12, 7]));
    ds.push(line([{ x: -0.04 + nriBand, y: -0.04 }, { x: 1.04, y: 1.04 - nriBand }], [12, 7]));
    new Chart(document.getElementById(id), {
        type: 'scatter',
        data: { datasets: ds },
        options: rOptions({ top: 82, right: L.right, left: 0, bottom: 0 },
            rScale({ horizontal: true, min: -0.04, max: 1.04, ticks: unitTicks, size: 89, font: 21, tick: 9, pad: 13,
                     title: "Wang's (13 gene)", titleSize: 30, bold: true, titlePad: { top: 0, bottom: 3 } }),
            rScale({ min: -0.04, max: 1.04, ticks: unitTicks, size: L.left, font: 21, tick: 9, pad: 0, hideLabels: true,
                     title: 'Current signature', titleSize: 30, bold: true, titlePad: { top: L.yTitle, bottom: 0 } })),
        plugins: [deco({
            box: 2.5,
            yLabels: { values: unitTicks, dist: L.yDist, size: 21 },
            texts: [{ s: title, x: L.titleX, y: 64, size: 30, bold: true, align: 'center' }],
            legend: function (ctx) {
                [108, 133, 157].forEach(function (y, i) {
                    ctx.strokeStyle = nriColors[i];
                    ctx.lineWidth = 1.7;
                    ctx.beginPath(); ctx.arc(L.legX, y, 5.5, 0, Math.PI * 2); ctx.stroke();
                    txt(ctx, nriLegend[i], L.legX + 13, y, fontStr(19), 'left');
                });
            }
        })]
    });
}
nriChart('nriD', [[nriDCaseX, nriDCaseY], [nriDControlX, nriDControlY], [nriDCensX, nriDCensY]],
         '3-year   NRI = 0.101', { left: 87, right: 6, yTitle: 0, yDist: 36, titleX: 246, legX: 99 });
nriChart('nriE', [[nriECaseX, nriECaseY], [nriEControlX, nriEControlY], [nriECensX, nriECensY]],
         '4-year   NRI = 0.177', { left: 94, right: 0, yTitle: 8, yDist: 37, titleX: 251, legX: 106 });
</script>
</body>
</html>
